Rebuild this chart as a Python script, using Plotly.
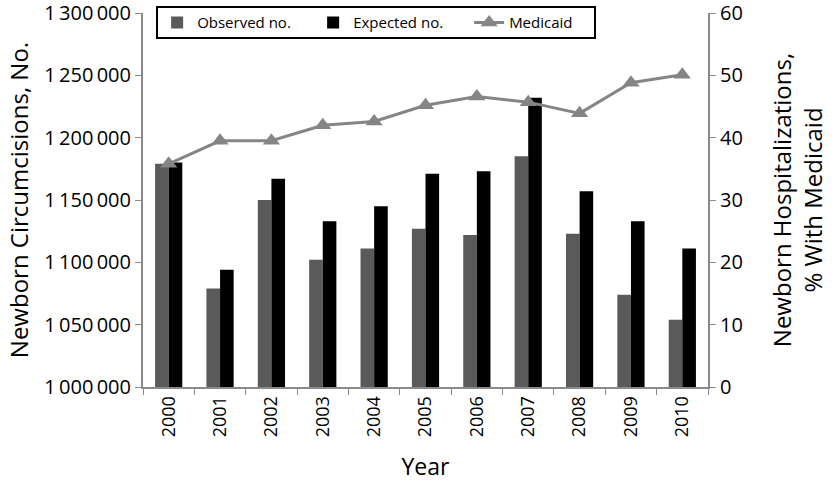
import plotly.graph_objects as go

years = ["2000", "2001", "2002", "2003", "2004", "2005", "2006", "2007", "2008", "2009", "2010"]
observed = [1179000, 1079000, 1150000, 1102000, 1111000, 1127000, 1122000, 1185000, 1123000, 1074000, 1054000]
expected = [1180000, 1094000, 1167000, 1133000, 1145000, 1171000, 1173000, 1232000, 1157000, 1133000, 1111000]
medicaid = [35.8, 39.5, 39.5, 42.0, 42.6, 45.2, 46.6, 45.7, 43.9, 48.8, 50.1]

left_ticks = [1000000, 1050000, 1100000, 1150000, 1200000, 1250000, 1300000]
left_labels = ["1\u2009000\u2009000", "1\u2009050\u2009000", "1\u2009100\u2009000", "1\u2009150\u2009000",
               "1\u2009200\u2009000", "1\u2009250\u2009000", "1\u2009300\u2009000"]
right_ticks = [0, 10, 20, 30, 40, 50, 60]

FONT = "Open Sans"
AX = "#8a8a8a"

fig = go.Figure()
fig.add_trace(go.Bar(x=years, y=observed, name="Observed no.", marker_color="#5a5a5a",
                     marker_line_width=0))
fig.add_trace(go.Bar(x=years, y=expected, name="Expected no.", marker_color="#000000",
                     marker_line_width=0))
fig.add_trace(go.Scatter(x=years, y=medicaid, name="Medicaid", yaxis="y2", mode="lines+markers",
                         line=dict(color="#858585", width=3),
                         marker=dict(symbol="triangle-up", size=15, color="#858585")))

fig.update_layout(
    width=836, height=489,
    margin=dict(l=143, r=128, t=13, b=102, autoexpand=False),
    paper_bgcolor="white", plot_bgcolor="white",
    barmode="group", bargap=0.47, bargroupgap=0,
    font=dict(family=FONT, color="black", size=18),
    showlegend=True,
    legend=dict(orientation="h", x=0.025, y=1.018, xanchor="left", yanchor="top",
                borderwidth=0, bgcolor="rgba(0,0,0,0)",
                font=dict(size=15, family=FONT),
                entrywidth=111, entrywidthmode="pixels", traceorder="normal"),
    shapes=[dict(type="rect", xref="paper", yref="paper", x0=0.0248, x1=0.80, y0=0.933, y1=1.016,
                 line=dict(color="black", width=2), fillcolor="white", layer="below")],
    xaxis=dict(type="category", range=[-0.5, len(years) - 0.5],
               title=dict(text="Year", font=dict(size=23), standoff=23),
               tickangle=-90, tickson="boundaries", ticks="outside", ticklen=6, tickcolor=AX,
               showline=True, linecolor=AX, linewidth=2, showgrid=False, automargin=False,
               tickfont=dict(size=18)),
    yaxis=dict(range=[1000000, 1300000], tickvals=left_ticks, ticktext=left_labels,
               title=dict(text="Newborn Circumcisions, No.", font=dict(size=24), standoff=9),
               ticks="outside", ticklen=6, tickcolor=AX, showline=True, linecolor=AX, linewidth=2,
               showgrid=False, zeroline=False, tickfont=dict(size=20), automargin=False,
               ticklabeloverflow="allow"),
    yaxis2=dict(range=[0, 60], tickvals=right_ticks, overlaying="y", side="right",
                title=dict(text="Newborn Hospitalizations,<br>% With Medicaid", font=dict(size=24), standoff=32),
                ticks="outside", ticklen=6, tickcolor=AX, showline=True, linecolor=AX, linewidth=2,
                showgrid=False, zeroline=False, tickfont=dict(size=20), automargin=False,
                ticklabeloverflow="allow"),
)

fig.write_html("out.html", post_script="document.body.style.margin='0';",
               config={"displayModeBar": False})
